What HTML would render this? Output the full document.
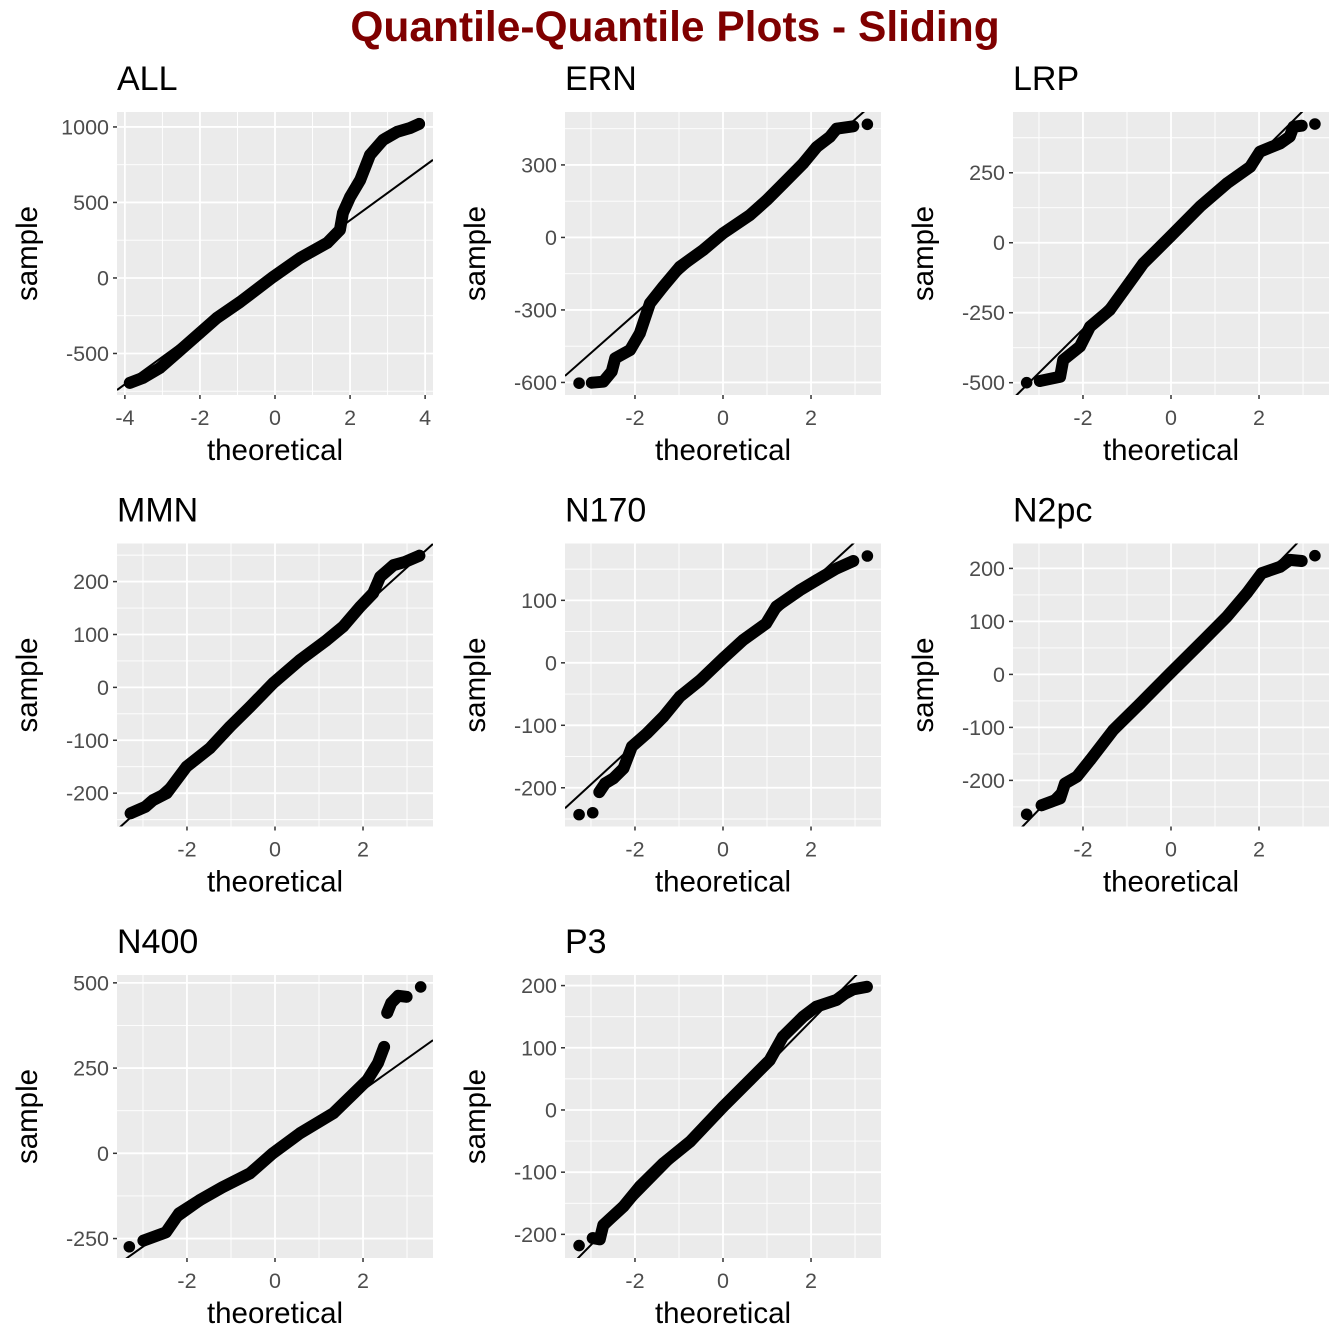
<!DOCTYPE html>
<html><head><meta charset="utf-8">
<style>
html,body{margin:0;padding:0;background:#fff;}
svg{display:block;font-family:"Liberation Sans",Arial,sans-serif;}
</style></head>
<body>
<svg id="chart" width="1344" height="1344" viewBox="0 0 1344 1344">
<text x="675" y="41" text-anchor="middle" font-size="42.5" font-weight="bold" fill="#7f0000">Quantile-Quantile Plots - Sliding</text>
</svg>
<script>
// ---- data ----
const panelNames = ["ALL","ERN","LRP","MMN","N170","N2pc","N400","P3"];
const xDomains = [[-4.21,4.21],[-3.59,3.59],[-3.59,3.59],[-3.59,3.59],[-3.59,3.59],[-3.59,3.59],[-3.59,3.59],[-3.59,3.59]];
const yDomains = [[-775,1099],[-652,519],[-544,467],[-263,272],[-262,191],[-287,247],[-307,523],[-238,217]];
const xTicks = [[-4,-2,0,2,4],[-2,0,2],[-2,0,2],[-2,0,2],[-2,0,2],[-2,0,2],[-2,0,2],[-2,0,2]];
const yTicks = [[-500,0,500,1000],[-600,-300,0,300],[-500,-250,0,250],[-200,-100,0,100,200],[-200,-100,0,100],[-200,-100,0,100,200],[-250,0,250,500],[-200,-100,0,100,200]];
const refSlope = [181,161,156,75.3,64.7,85.7,91.9,72];
const refIntercept = [20,5,3,1,-0.5,2,2,-1];

const theoALL = [-3.87,-3.52,-3.07,-2.61,-2.0,-1.55,-0.93,-0.05,0.67,1.39,1.73,1.81,2.0,2.27,2.53,2.88,3.25,3.6,3.84];
const sampALL = [-695,-662,-596,-497,-364,-265,-159,7,132,232,318,430,536,649,815,914,967,993,1020];
const theoERN = [-3.27,-2.98,-2.72,-2.53,-2.45,-2.11,-1.89,-1.66,-1.36,-0.98,-0.45,0,0.61,0.99,1.37,1.82,2.13,2.43,2.58,2.96,3.28];
const sampERN = [-603,-601,-597,-555,-500,-466,-397,-273,-204,-121,-52,17,92,154,223,306,374,416,450,460,468];
const theoLRP = [-3.28,-2.98,-2.52,-2.45,-2.07,-1.84,-1.39,-1.01,-0.63,-0.02,0.66,1.27,1.8,2.02,2.48,2.7,2.78,2.97,3.27];
const sampLRP = [-500,-494,-479,-419,-371,-300,-240,-157,-74,21,129,212,271,325,355,379,414,418,424];
const theoMMN = [-3.28,-2.95,-2.77,-2.46,-2.01,-1.48,-1.02,-0.57,-0.04,0.57,1.17,1.55,1.93,2.23,2.39,2.69,2.95,3.28];
const sampMMN = [-238,-226,-213,-200,-150,-115,-74,-37,8,52,89,115,152,178,209,231,237,249];
const theoN170 = [-3.27,-2.96,-2.81,-2.68,-2.49,-2.26,-2.07,-1.73,-1.35,-0.98,-0.52,0,0.45,0.98,1.21,1.74,2.12,2.58,2.96,3.28];
const sampN170 = [-243,-240,-207,-193,-185,-169,-134,-113,-86,-54,-28,7,36,63,90,116,132,151,163,171];
const theoN2pc = [-3.28,-2.94,-2.52,-2.41,-2.14,-1.84,-1.31,-0.7,-0.02,0.66,1.27,1.72,2.06,2.48,2.7,2.97,3.27];
const sampN2pc = [-264,-247,-234,-206,-193,-162,-105,-55,2,58,109,153,191,203,216,214,224];
const theoN400 = [-3.31,-2.99,-2.48,-2.18,-1.72,-1.2,-0.57,-0.05,0.57,1.33,1.79,2.1,2.34,2.48,2.55,2.64,2.8,2.99,3.31];
const sampN400 = [-274,-256,-232,-176,-138,-100,-59,0,59,118,176,215,265,312,412,441,462,459,488];
const theoP3 = [-3.27,-2.96,-2.8,-2.72,-2.26,-1.89,-1.36,-0.75,0,0.61,1.06,1.36,1.82,2.12,2.58,2.77,2.96,3.27];
const sampP3 = [-218,-206,-208,-185,-155,-123,-86,-51,5,48,80,118,150,166,177,187,194,198];
// indices before which the point cloud is visibly broken
const breaksALL = [];
const breaksERN = [1,20];
const breaksLRP = [1,18];
const breaksMMN = [18];
const breaksN170 = [1,2,19];
const breaksN2pc = [1,16];
const breaksN400 = [1,14,18];
const breaksP3 = [1,18];

const theo = [theoALL,theoERN,theoLRP,theoMMN,theoN170,theoN2pc,theoN400,theoP3];
const samp = [sampALL,sampERN,sampLRP,sampMMN,sampN170,sampN2pc,sampN400,sampP3];
const breaks = [breaksALL,breaksERN,breaksLRP,breaksMMN,breaksN170,breaksN2pc,breaksN400,breaksP3];

// ---- layout ----
const NS = "http://www.w3.org/2000/svg";
const svg = document.getElementById("chart");
const colLeft = [117,565,1013];
const rowTop = [112,543.5,975];
const PW = 316, PH = 283;
function mk(tag, attrs, parent){
  const e = document.createElementNS(NS, tag);
  for (const k in attrs) e.setAttribute(k, attrs[k]);
  (parent||svg).appendChild(e);
  return e;
}
panelNames.forEach((name, i) => {
  const L = colLeft[i%3], T = rowTop[Math.floor(i/3)];
  const xd = xDomains[i], yd = yDomains[i];
  const sx = v => L + (v - xd[0]) / (xd[1]-xd[0]) * PW;
  const sy = v => T + PH - (v - yd[0]) / (yd[1]-yd[0]) * PH;
  const g = mk("g", {});
  
  
  const bg = mk("rect", {x:L, y:T, width:PW, height:PH, fill:"#ebebeb"}, g);
  
  
  const clipId = "clip" + i;
  const cp = mk("clipPath", {id:clipId}, g);
  mk("rect", {x:L, y:T, width:PW, height:PH}, cp);
  const xt = xTicks[i], yt = yTicks[i];
  const xstep = xt[1]-xt[0], ystep = yt[1]-yt[0];
  for (let v = xt[0]-xstep*2.5; v <= xd[1]; v += xstep) {
    if (v < xd[0]) continue;
    const m = mk("line", {x1:sx(v), x2:sx(v), y1:T, y2:T+PH, stroke:"#fff", "stroke-width":0.9}, g);
    
    
  }
  for (let v = yt[0]-ystep*2.5; v <= yd[1]; v += ystep) {
    if (v < yd[0]) continue;
    const m = mk("line", {x1:L, x2:L+PW, y1:sy(v), y2:sy(v), stroke:"#fff", "stroke-width":0.9}, g);
    
    
  }
  xt.forEach(v => {
    const x = sx(v);
    const gl = mk("line", {x1:x, x2:x, y1:T, y2:T+PH, stroke:"#fff", "stroke-width":1.8}, g);
    
    
    const tk = mk("line", {x1:x, x2:x, y1:T+PH, y2:T+PH+4, stroke:"#333", "stroke-width":1.5}, g);
    
    
    const tl = mk("text", {x:x, y:T+PH+30, "text-anchor":"middle", "font-size":21.5, fill:"#4d4d4d"}, g);
    tl.textContent = String(v);
    
    
  });
  yt.forEach(v => {
    const y = sy(v);
    const gl = mk("line", {x1:L, x2:L+PW, y1:y, y2:y, stroke:"#fff", "stroke-width":1.8}, g);
    
    
    const tk = mk("line", {x1:L-4, x2:L, y1:y, y2:y, stroke:"#333", "stroke-width":1.5}, g);
    
    
    const tl = mk("text", {x:L-8, y:y+7.5, "text-anchor":"end", "font-size":21.5, fill:"#4d4d4d"}, g);
    tl.textContent = String(v);
    
    
  });
  const pts = mk("g", {"clip-path":"url(#"+clipId+")"}, g);
  
  
  let d = "";
  theo[i].forEach((t, k) => {
    const cmd = (k === 0 || breaks[i].includes(k)) ? "M" : "L";
    d += cmd + sx(t).toFixed(1) + "," + sy(samp[i][k]).toFixed(1) + " ";
  });
  const path = mk("path", {d:d, fill:"none", stroke:"#000", "stroke-width":12, "stroke-linecap":"round", "stroke-linejoin":"round"}, pts);
  
  
  theo[i].forEach((t, k) => {
    const c = mk("circle", {cx:sx(t), cy:sy(samp[i][k]), r:5.8, fill:"#000"}, pts);
    
    
  });
  const ln = mk("line", {x1:sx(xd[0]), y1:sy(refIntercept[i]+refSlope[i]*xd[0]), x2:sx(xd[1]), y2:sy(refIntercept[i]+refSlope[i]*xd[1]), stroke:"#000", "stroke-width":2, "clip-path":"url(#"+clipId+")"}, g);
  
  
  const tt = mk("text", {x:L, y:T-22, "font-size":34, fill:"#000"}, g);
  tt.textContent = name;
  
  
  const xa = mk("text", {x:L+PW/2, y:T+PH+65, "text-anchor":"middle", "font-size":29.5, fill:"#000"}, g);
  xa.textContent = "theoretical";
  
  
  const yx = L - 80, yy = T + PH/2;
  const ya = mk("text", {x:yx, y:yy, "text-anchor":"middle", "font-size":29.5, fill:"#000", transform:"rotate(-90 "+yx+" "+yy+")"}, g);
  ya.textContent = "sample";
  
  
});
</script>
</body></html>
